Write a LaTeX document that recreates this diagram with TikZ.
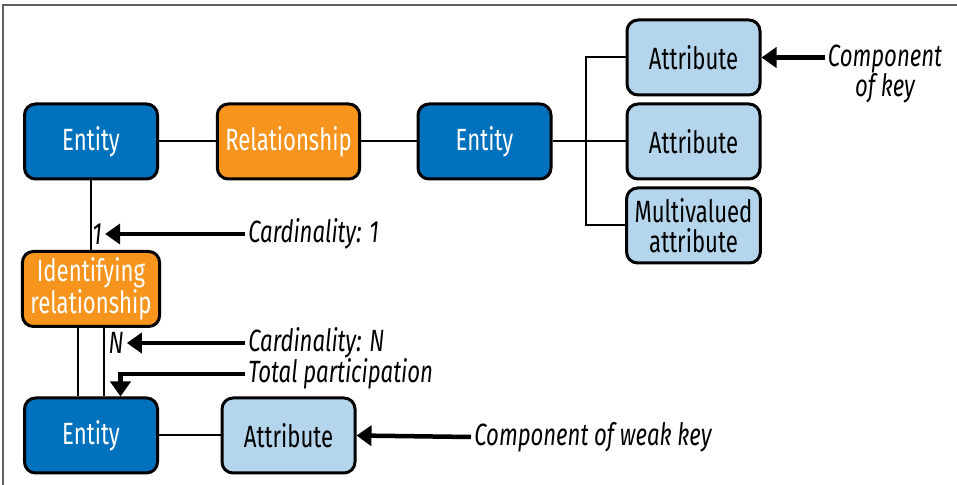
\documentclass[tikz,border=0pt]{standalone}
\usepackage{fontspec}
\setmainfont{Fira Sans}[FakeStretch=0.72]
\usetikzlibrary{arrows.meta}
\definecolor{entityblue}{RGB}{0,113,188}
\definecolor{relorange}{RGB}{247,148,30}
\definecolor{attrblue}{RGB}{180,213,235}
\definecolor{framegray}{RGB}{95,95,95}

\begin{document}
\begin{tikzpicture}[
    node distance=3.95cm, font=\fontsize{17.5}{17}\selectfont,
    box/.style={draw, line width=0.06cm, rounded corners=0.22cm, minimum width=2.66cm, minimum height=1.5cm, inner xsep=0.16cm, align=center},
    entity/.style={box, fill=entityblue, text=white},
    relation/.style={box, fill=relorange, text=white},
    attr/.style={box, fill=attrblue},
    note/.style={font=\fontsize{17.5}{17}\selectfont\itshape, inner sep=0.06cm, align=center},
    pointer/.style={-{Triangle[length=0.3cm, width=0.4cm]}, line width=0.09cm},
    link/.style={line width=0.04cm}
]
\useasboundingbox (0,0) rectangle (19.14,9.7);
\draw[framegray, line width=0.03cm] (0.06,0) -- (0.06,9.6) -- (19.14,9.6);

\node (entity_a) [entity] at (1.82,6.87) {Entity};
\node (relationship) [relation, right of=entity_a] {Relationship};
\node (entity_b) [entity, right of=relationship, xshift=-0.03cm] {Entity};
\node (attr_b) [attr, right of=entity_b, xshift=0.23cm] {Attribute};
\node (attr_a) [attr, above of=attr_b, node distance=1.68cm] {Attribute};
\node (attr_multi) [attr, below of=attr_b, node distance=1.68cm] {Multivalued\\attribute};
\node (id_relationship) [relation, below of=entity_a, node distance=2.95cm] {Identifying\\relationship};
\node (entity_c) [entity, below of=id_relationship, node distance=2.93cm] {Entity};
\node (attr_c) [attr, right of=entity_c] {Attribute};

% cardinality marks and notes
\node (one_mark) [note] at (1.94,5.02) {1};
\node (n_mark) [note] at (2.32,2.84) {N};
\node (card_one) [note, anchor=west] at (4.9,5.02) {Cardinality: 1};
\node (card_n) [note, anchor=west] at (4.9,2.84) {Cardinality: N};
\node (total_part) [note, anchor=west] at (4.9,2.22) {Total participation};
\node (weak_key) [note, anchor=west] at (9.42,0.96) {Component of weak key};
\node (comp_key) [note] at (17.7,8.22) {Component\\of key};
\coordinate (fork) at (11.72,6.87);
\coordinate (total_tip) at ([xshift=0.59cm]entity_c.north);

\draw[link] (entity_a) -- (relationship);
\draw[link] (relationship) -- (entity_b);
\draw[link] (entity_b) -- (attr_b);
\draw[link] (attr_a.west) -| (fork) |- (attr_multi.west);
\draw[link] (entity_a) -- (id_relationship);
\draw[link] ([xshift=-0.27cm]id_relationship.south) -- ([xshift=-0.27cm]entity_c.north);
\draw[link] ([xshift=0.25cm]id_relationship.south) -- ([xshift=0.25cm]entity_c.north);
\draw[link] (entity_c) -- (attr_c);

\draw[pointer] (card_one.west) -- (one_mark.east);
\draw[pointer] (card_n.west) -- (n_mark.east);
\draw[pointer] (total_part.west) -| (total_tip);
\draw[pointer] (weak_key.west) -- (attr_c.east);
\draw[pointer] (comp_key.west |- attr_a.east) -- (attr_a.east);
\end{tikzpicture}
\end{document}
